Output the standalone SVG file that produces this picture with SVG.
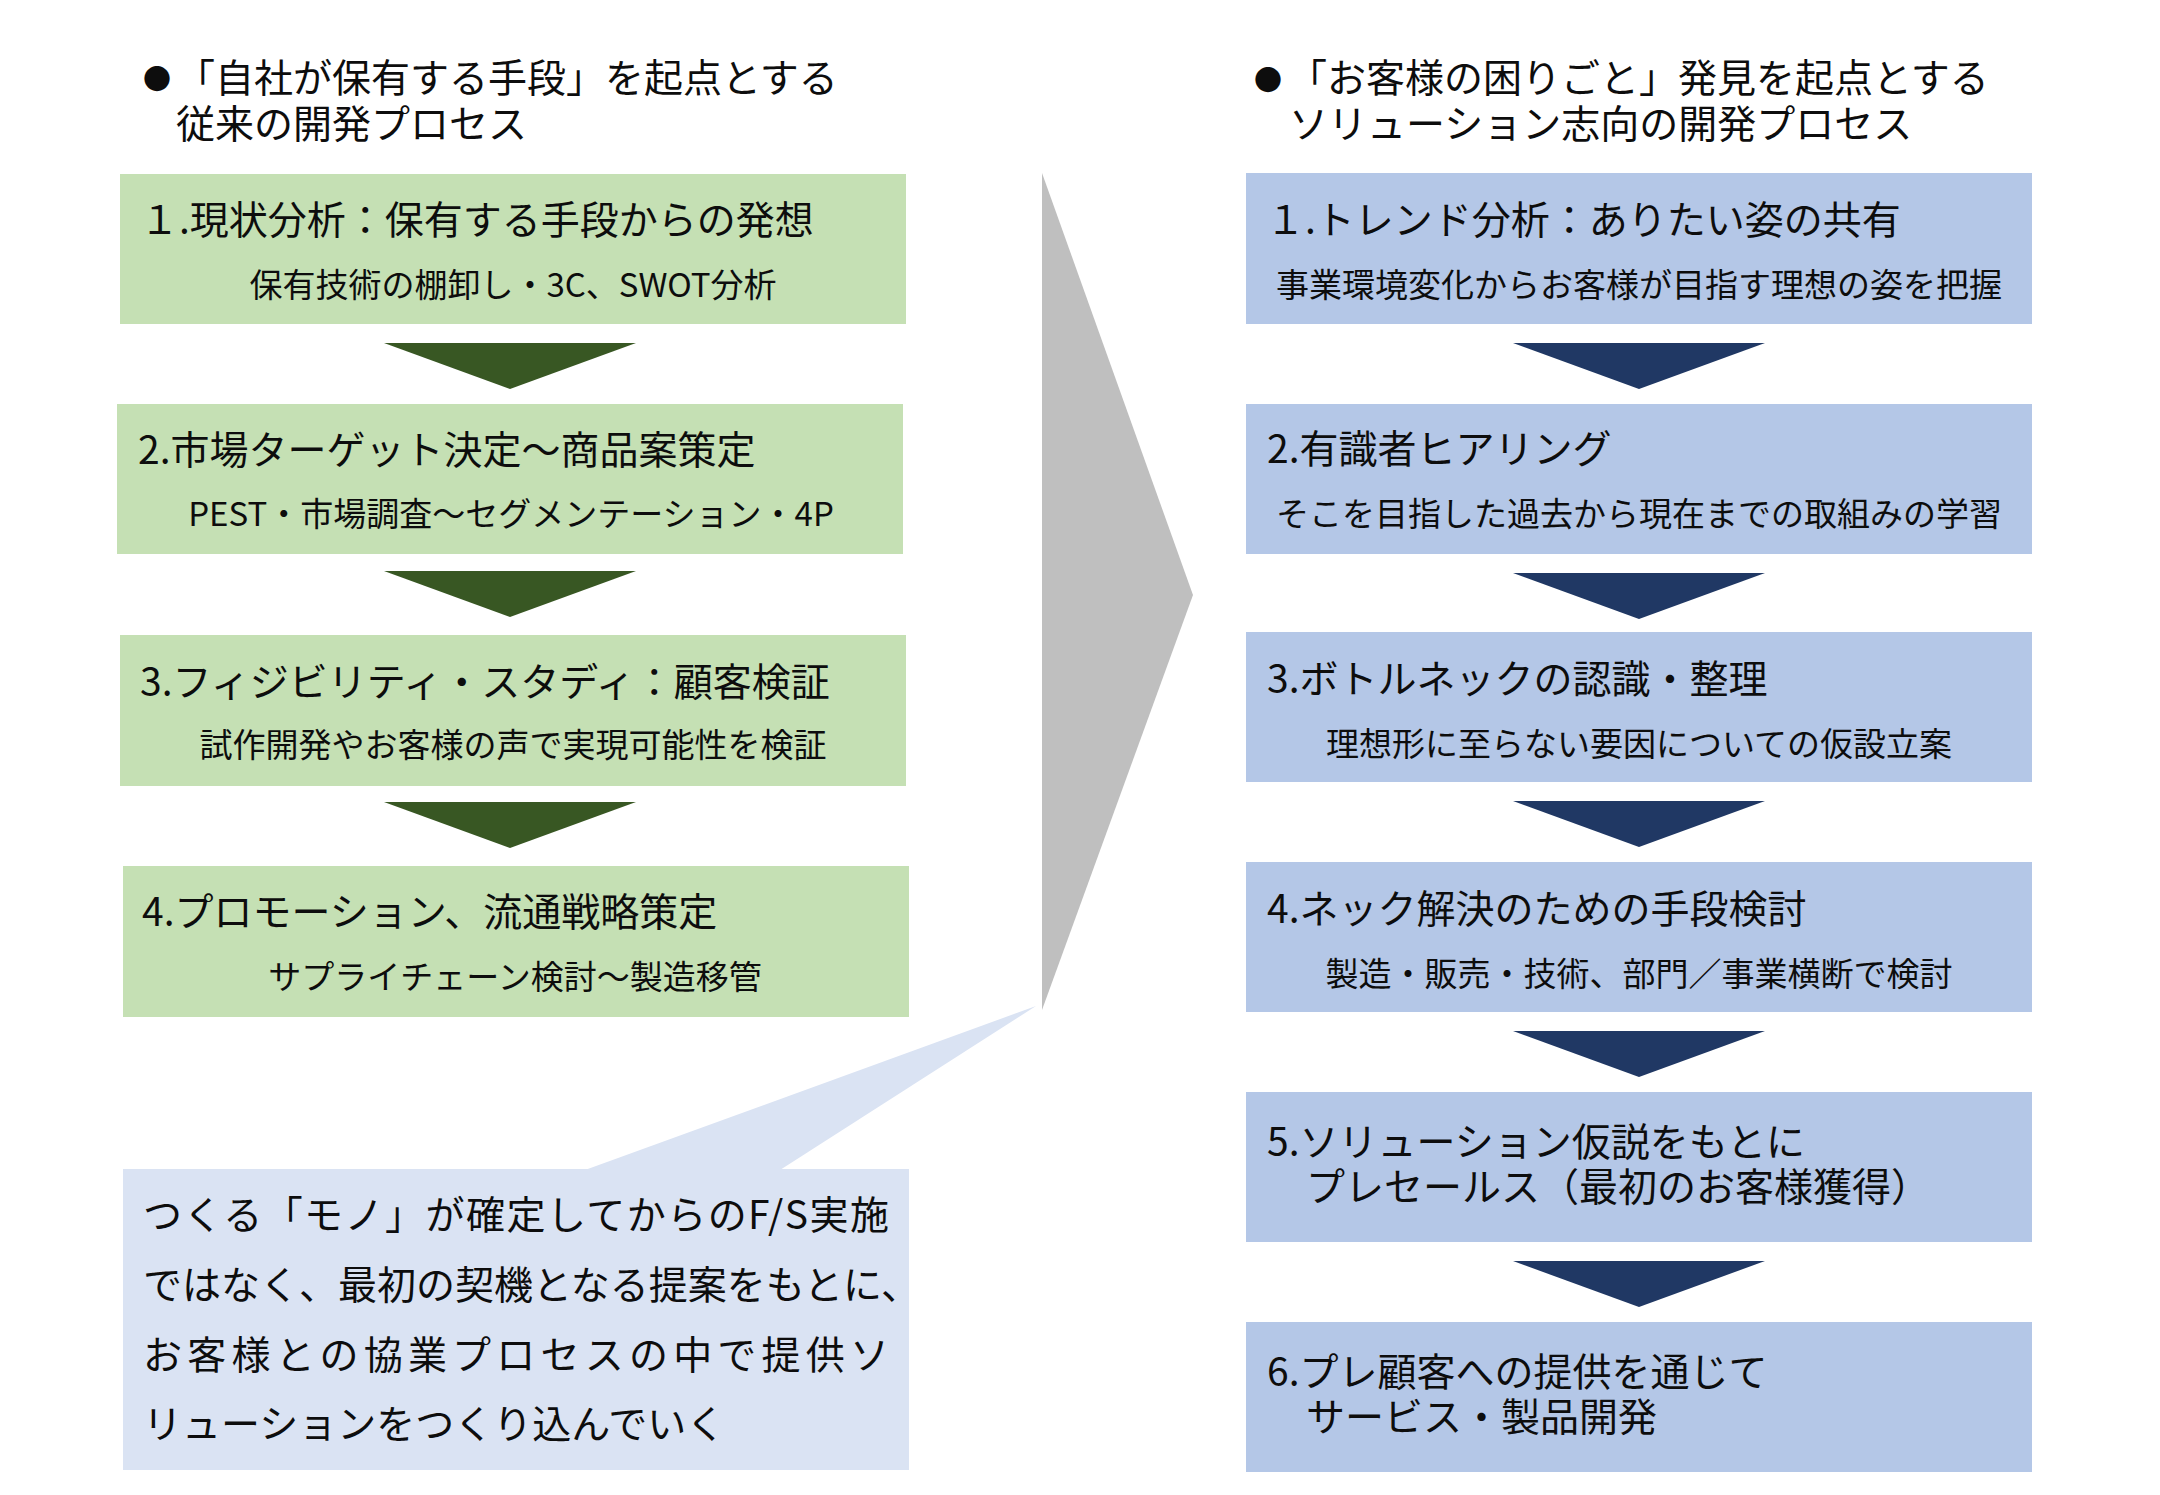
<svg xmlns="http://www.w3.org/2000/svg" width="2160" height="1495" viewBox="0 0 2160 1495">
<style>
text{font-family:"Noto Sans CJK JP","Noto Sans CJK SC",sans-serif;fill:#0d0d0d}
.hd{font-size:39px}
.tt{font-size:39px}
.st{font-size:33px;text-anchor:middle}
.cl{font-size:39px}
.bul{font-size:28px;text-anchor:middle}
.g{fill:#c5e0b4}
.b{fill:#b4c7e7}
.ga{fill:#385723}
.ba{fill:#203864}
</style>
<rect width="2160" height="1495" fill="#ffffff"/>

<g id="header-left">
<text class="bul" x="157" y="90">●</text>
<text class="hd" x="176" y="92">「自社が保有する手段」を起点とする</text>
<text class="hd" x="176" y="138">従来の開発プロセス</text>
</g>
<g id="header-right">
<text class="bul" x="1268" y="91">●</text>
<text class="hd" x="1288" y="92">「お客様の困りごと」発見を起点とする</text>
<text class="hd" x="1289" y="138">ソリューション志向の開発プロセス</text>
</g>

<g id="big-arrow">
<polygon points="1042,173 1193,595 1042,1010" fill="#bfbfbf"/>
</g>

<g id="connectors">
<polygon class="ga" points="384,343 636,343 510,389"/>
<polygon class="ga" points="384,571 636,571 510,617"/>
<polygon class="ga" points="384,802 636,802 510,848"/>
<polygon class="ba" points="1513,343 1765,343 1639,389"/>
<polygon class="ba" points="1513,573 1765,573 1639,619"/>
<polygon class="ba" points="1513,801 1765,801 1639,847"/>
<polygon class="ba" points="1513,1031 1765,1031 1639,1077"/>
<polygon class="ba" points="1513,1261 1765,1261 1639,1307"/>
</g>

<g id="L1">
<rect class="g" x="120" y="174" width="786" height="150"/>
<text class="tt" x="140" y="234">１.現状分析：保有する手段からの発想</text>
<text class="st" x="513" y="297">保有技術の棚卸し・3C、SWOT分析</text>
</g>
<g id="L2">
<rect class="g" x="117" y="404" width="786" height="150"/>
<text class="tt" x="138" y="464">2.市場ターゲット決定～商品案策定</text>
<text class="st" x="511" y="526">PEST・市場調査～セグメンテーション・4P</text>
</g>
<g id="L3">
<rect class="g" x="120" y="635" width="786" height="151"/>
<text class="tt" x="140" y="696">3.フィジビリティ・スタディ：顧客検証</text>
<text class="st" x="513" y="757">試作開発やお客様の声で実現可能性を検証</text>
</g>
<g id="L4">
<rect class="g" x="123" y="866" width="786" height="151"/>
<text class="tt" x="142" y="926">4.プロモーション、流通戦略策定</text>
<text class="st" x="515" y="989">サプライチェーン検討～製造移管</text>
</g>

<g id="callout">
<polygon points="585,1170 1036,1006 780,1170" fill="#dae3f3"/>
<rect x="123" y="1169" width="786" height="301" fill="#dae3f3"/>
<text class="cl" x="143" y="1229" textLength="746" lengthAdjust="spacing">つくる「モノ」が確定してからのF/S実施</text>
<text class="cl" x="143" y="1299">ではなく、最初の契機となる提案をもとに、</text>
<text class="cl" x="143" y="1369" textLength="746" lengthAdjust="spacing">お客様との協業プロセスの中で提供ソ</text>
<text class="cl" x="143" y="1438">リューションをつくり込んでいく</text>
</g>

<g id="R1">
<rect class="b" x="1246" y="173" width="786" height="151"/>
<text class="tt" x="1266" y="234">１.トレンド分析：ありたい姿の共有</text>
<text class="st" x="1639" y="297">事業環境変化からお客様が目指す理想の姿を把握</text>
</g>
<g id="R2">
<rect class="b" x="1246" y="404" width="786" height="150"/>
<text class="tt" x="1267" y="463">2.有識者ヒアリング</text>
<text class="st" x="1639" y="526">そこを目指した過去から現在までの取組みの学習</text>
</g>
<g id="R3">
<rect class="b" x="1246" y="632" width="786" height="150"/>
<text class="tt" x="1267" y="693">3.ボトルネックの認識・整理</text>
<text class="st" x="1639" y="756">理想形に至らない要因についての仮設立案</text>
</g>
<g id="R4">
<rect class="b" x="1246" y="862" width="786" height="150"/>
<text class="tt" x="1267" y="923">4.ネック解決のための手段検討</text>
<text class="st" x="1639" y="986">製造・販売・技術、部門／事業横断で検討</text>
</g>
<g id="R5">
<rect class="b" x="1246" y="1092" width="786" height="150"/>
<text class="tt" x="1267" y="1156">5.ソリューション仮説をもとに</text>
<text class="tt" x="1267" y="1201">　プレセールス（最初のお客様獲得）</text>
</g>
<g id="R6">
<rect class="b" x="1246" y="1322" width="786" height="150"/>
<text class="tt" x="1267" y="1386">6.プレ顧客への提供を通じて</text>
<text class="tt" x="1267" y="1431">　サービス・製品開発</text>
</g>
</svg>
